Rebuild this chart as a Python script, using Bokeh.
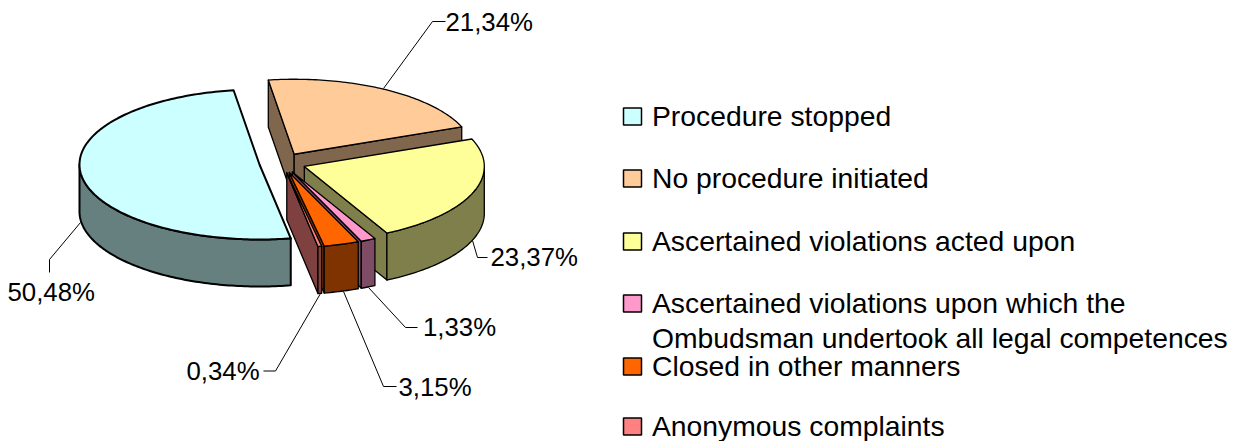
from math import sin, cos, radians
import numpy as np
from bokeh.plotting import figure
from bokeh.embed import file_html
from bokeh.resources import INLINE
from bokeh.core.properties import value

categories = ["Procedure stopped", "No procedure initiated", "Ascertained violations acted upon",
              "Ascertained violations upon which the\nOmbudsman undertook all legal competences",
              "Closed in other manners", "Anonymous complaints"]
values = [50.48, 21.34, 23.37, 1.33, 3.15, 0.34]
value_labels = ["50,48%", "21,34%", "23,37%", "1,33%", "3,15%", "0,34%"]
top_colors = ["#CCFFFF", "#FFCC99", "#FFFF99", "#FF99CC", "#FF6600", "#FF8080"]
side_colors = ["#667F7F", "#7F664C", "#7F7F4C", "#7F4C66", "#7F3300", "#7F4040"]
paint_order = [1, 0, 2, 3, 4, 5]

label_x = [7, 445, 490, 422.5, 398, 186]
label_y = [291.5, 21.5, 256.5, 326.5, 386, 370.5]
leader_x = [[80, 49, 49], [383, 432, 445], [472, 477, 487], [368, 405, 417], [343, 383, 396], [320, 275, 263]]
leader_y = [[222, 259, 272], [88, 21, 21], [240, 257, 257], [287, 327, 327], [291, 386, 386], [293, 370.5, 370.5]]
legend_y = [116, 178, 241, 303, 366, 426]

W, H = 1243, 441
START = 170.0
CX, CY, RX, RY, DEPTH = 282.0, 162.4, 180.0, 75.0, 47.0
EX, EY = 23.3, 10.0

p = figure(width=W, height=H, x_range=(0, W), y_range=(H, 0), output_backend="svg",
           toolbar_location=None, min_border=0, outline_line_color=None,
           x_axis_location=None, y_axis_location=None)
p.grid.visible = False
p.background_fill_color = "white"
p.border_fill_color = "white"

def face(xs, ys, color, lw):
    p.patch(xs, ys, fill_color=color, line_color="black", line_width=lw, line_join="round")

def arc(cx, cy, t0, t1):
    ts = np.radians(np.linspace(t0, t1, max(2, int(abs(t1 - t0)) + 2)))
    return cx + RX * np.sin(ts), cy - RY * np.cos(ts)

starts = START + np.concatenate([[0], np.cumsum(values)[:-1]]) * 3.6
for i in paint_order:
    lw = 2.0 if i == 0 else 1.3
    t0 = starts[i]
    t1 = t0 + values[i] * 3.6
    mid = radians((t0 + t1) / 2)
    cx, cy = CX + EX * sin(mid), CY - EY * cos(mid)
    # radial faces
    for t, normal in ((t0, t0 - 90), (t1, t1 + 90)):
        if cos(radians(normal)) < 0:
            ox, oy = cx + RX * sin(radians(t)), cy - RY * cos(radians(t))
            face([cx, ox, ox, cx], [cy, oy, oy + DEPTH, cy + DEPTH], side_colors[i], lw)
    # outer wall: the part of the rim that faces the viewer
    for shift in (0, 360):
        a, b = max(t0 - shift, 90), min(t1 - shift, 270)
        if a < b:
            ax, ay = arc(cx, cy, a, b)
            face(np.concatenate([ax, ax[::-1]]), np.concatenate([ay, ay[::-1] + DEPTH]), side_colors[i], lw)
    # top
    ax, ay = arc(cx, cy, t0, t1)
    face(np.concatenate([[cx], ax]), np.concatenate([[cy], ay]), top_colors[i], lw)

for xs, ys in zip(leader_x, leader_y):
    p.line(xs, ys, line_color="black", line_width=1)

p.text(label_x, label_y, text=value_labels, text_font=value("Liberation Sans"), text_font_size="25.8px",
       text_baseline="middle", text_align="left", text_color="black")

for i, cat in enumerate(categories):
    y = legend_y[i]
    p.quad(left=[623], right=[641], top=[y - 8.5], bottom=[y + 8.5], fill_color=top_colors[i],
           line_color="black", line_width=1.5)
    for k, line in enumerate(cat.split("\n")):
        p.text([651.5], [y - 1 + k * 35.5], text=[line], text_font=value("Liberation Sans"), text_font_size="28.3px",
               text_baseline="middle", text_align="left", text_color="black")

open("out.html", "w").write(file_html(p, INLINE))
